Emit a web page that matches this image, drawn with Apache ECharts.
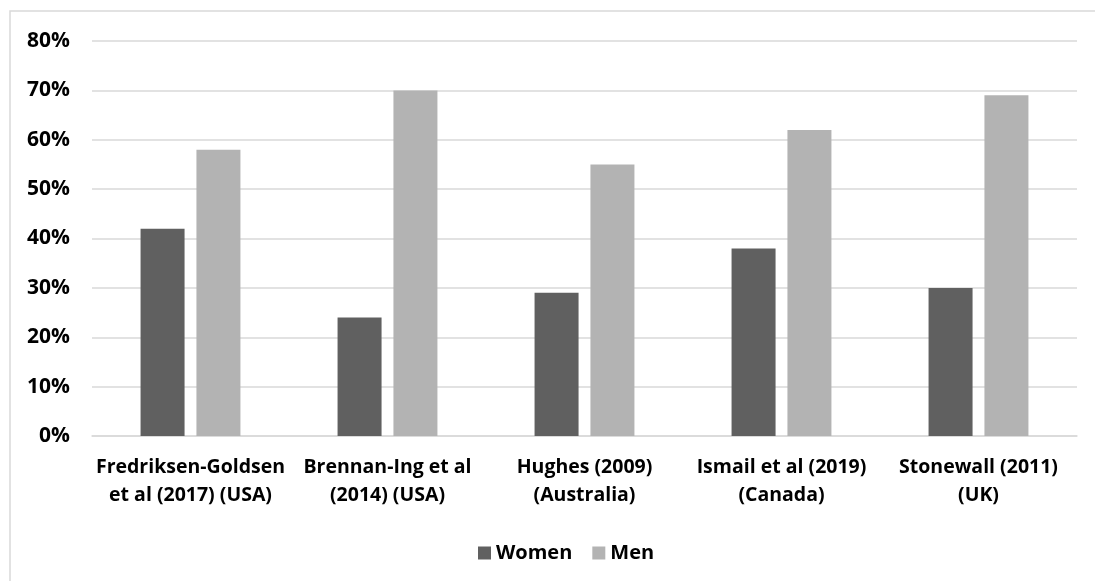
<!DOCTYPE html>
<html>
<head>
<meta charset="utf-8">
<script src="https://cdn.jsdelivr.net/npm/echarts@6/dist/echarts.min.js"></script>
<style>
html,body{margin:0;padding:0;background:#fff;}
#c{width:1095px;height:581px;}
</style>
</head>
<body>
<div id="c"></div>
<script>
var categories = [
  "Fredriksen-Goldsen\net al (2017) (USA)",
  "Brennan-Ing et al\n(2014) (USA)",
  "Hughes (2009)\n(Australia)",
  "Ismail et al (2019)\n(Canada)",
  "Stonewall (2011)\n(UK)"
];
var women = [42, 24, 29, 38, 30];
var men = [58, 70, 55, 62, 69];
var yTicks = [0, 10, 20, 30, 40, 50, 60, 70, 80];

var FONT = "'Open Sans'";
var chart = echarts.init(document.getElementById('c'));
chart.setOption({
  animation: false,
  backgroundColor: '#ffffff',
  graphic: [{
    type: 'rect',
    shape: {x: 10, y: 11, width: 1200, height: 700},
    style: {fill: 'none', stroke: '#d9d9d9', lineWidth: 1.5},
    silent: true
  }],
  grid: {left: 92, right: 18, top: 41, bottom: 145, containLabel: false},
  legend: {
    data: ['Women', 'Men'],
    left: 473,
    top: 538,
    itemWidth: 13,
    itemHeight: 13,
    itemGap: 20,
    icon: 'rect',
    textStyle: {fontFamily: FONT, fontWeight: 700, fontSize: 20, color: '#000'}
  },
  xAxis: {
    type: 'category',
    data: categories,
    axisTick: {show: false},
    axisLine: {show: true, lineStyle: {color: '#d9d9d9', width: 1.5}},
    axisLabel: {
      interval: 0,
      margin: 17,
      fontFamily: FONT, fontWeight: 700, fontSize: 19.5, color: '#000',
      lineHeight: 28
    }
  },
  yAxis: {
    type: 'value',
    min: 0, max: 80, interval: 10,
    axisLine: {show: false},
    axisTick: {show: false},
    splitLine: {lineStyle: {color: '#d9d9d9', width: 1.5}},
    axisLabel: {
      margin: 22,
      fontFamily: FONT, fontWeight: 700, fontSize: 21, color: '#000',
      formatter: function (v) { return yTicks.indexOf(v) >= 0 ? v + '%' : ''; }
    }
  },
  series: [
    {name: 'Women', type: 'bar', data: women, barWidth: 44, barGap: '27%', itemStyle: {color: '#606060'}},
    {name: 'Men', type: 'bar', data: men, barWidth: 44, barGap: '27%', itemStyle: {color: '#b3b3b3'}}
  ]
});
</script>
</body>
</html>
